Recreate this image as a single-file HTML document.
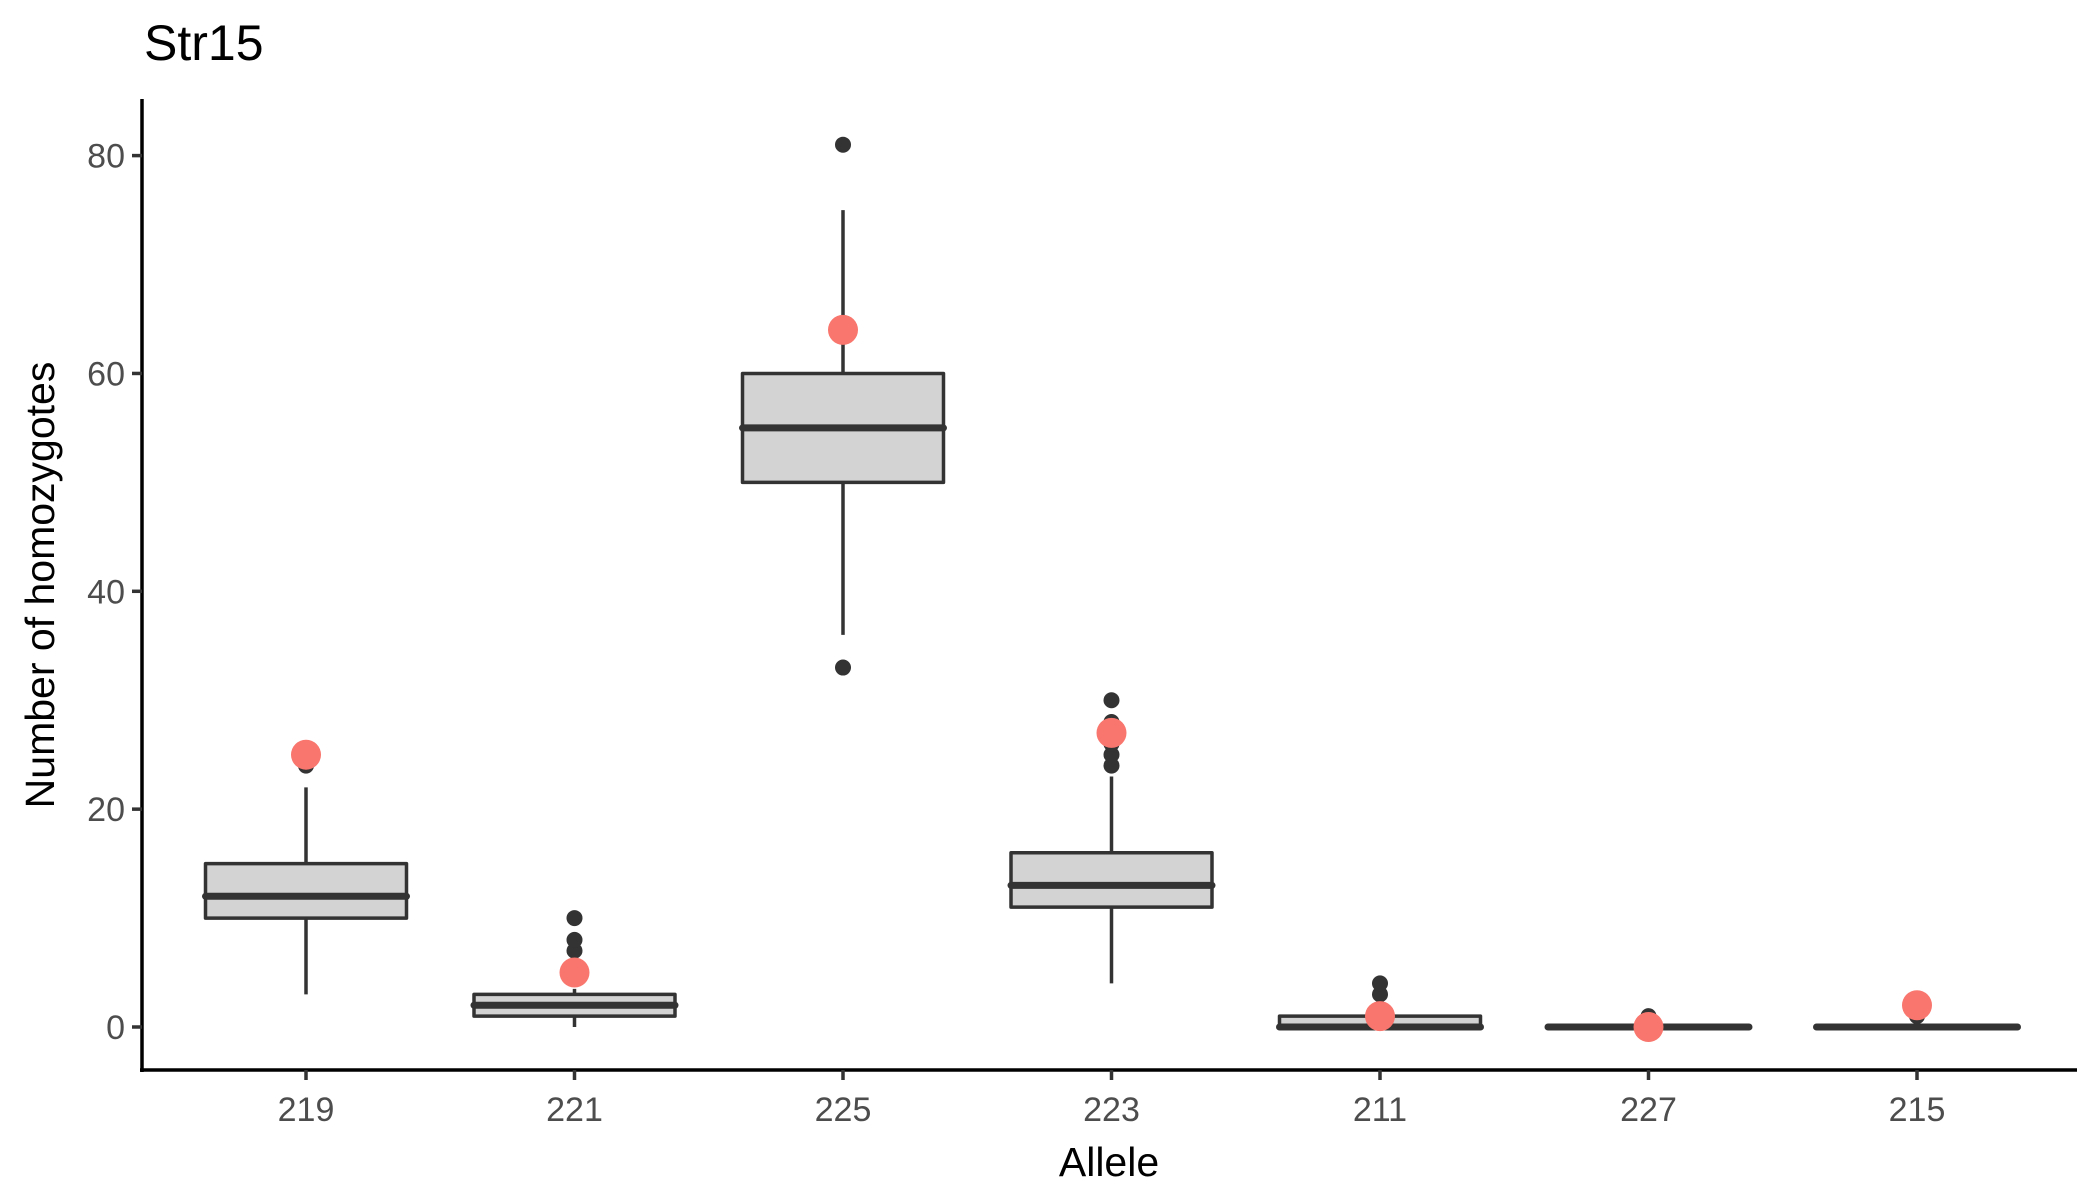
<!DOCTYPE html>
<html><head><meta charset="utf-8"><style>
html,body{margin:0;padding:0;background:#fff;}
svg{display:block;font-family:"Liberation Sans",Arial,sans-serif;}
</style></head><body>
<svg id="chart" width="2100" height="1200" viewBox="0 0 2100 1200">
<text x="144" y="60" font-size="50" fill="#000">Str15</text>
<g id="plot"></g>
<text transform="translate(54,585) rotate(-90)" text-anchor="middle" font-size="41" fill="#000">Number of homozygotes</text>
<text x="1109" y="1176" text-anchor="middle" font-size="41" fill="#000">Allele</text>
</svg>
<script>
const categories = ["219","221","225","223","211","227","215"];
const q1 = [10,1,50,11,0,0,0];
const median = [12,2,55,13,0,0,0];
const q3 = [15,3,60,16,1,0,0];
const whiskLow = [3,0,36,4,0,0,0];
const whiskHigh = [22,3.5,75,23,1,0,0];
const outliers = [[24],[7,8,10],[33,81],[24,25,26,27,28,30],[3,4],[1],[1]];
const observed = [25,5,64,27,1,0,2];
const yTicks = [0,20,40,60,80];

const NS="http://www.w3.org/2000/svg";
const g=document.getElementById('plot');
const x0=142, x1=2077, yTop=99, yAxis=1070;
function xs(i){return 306+i*268.5;}
function ys(v){return 1027-v*(1027-155.6)/80;}
const bw=201;
function mk(tag,attrs,parent){const e=document.createElementNS(NS,tag);for(const k in attrs)e.setAttribute(k,attrs[k]);(parent||g).appendChild(e);return e;}

let e;
e=mk('line',{x1:x0,y1:yTop,x2:x0,y2:yAxis+2,stroke:'#000','stroke-width':3.5});


e=mk('line',{x1:x0-2,y1:yAxis,x2:x1,y2:yAxis,stroke:'#000','stroke-width':3.5});



yTicks.forEach(t=>{
  e=mk('line',{x1:x0-10,y1:ys(t),x2:x0,y2:ys(t),stroke:'#333','stroke-width':3.5});
  
  
  e=mk('text',{x:x0-17,y:ys(t)+12,'text-anchor':'end','font-size':34,fill:'#4d4d4d'});
  e.textContent=t;
  
  
});

categories.forEach((c,i)=>{
  const cx=xs(i);
  e=mk('line',{x1:cx,y1:yAxis,x2:cx,y2:yAxis+10,stroke:'#333','stroke-width':3.5});
  
  
  e=mk('text',{x:cx,y:1121,'text-anchor':'middle','font-size':34,fill:'#4d4d4d'});
  e.textContent=c;
  
  
  const grp=mk('g',{});
  
  
  mk('line',{x1:cx,y1:ys(whiskHigh[i]),x2:cx,y2:ys(q3[i]),stroke:'#333','stroke-width':3.5},grp);
  mk('line',{x1:cx,y1:ys(whiskLow[i]),x2:cx,y2:ys(q1[i]),stroke:'#333','stroke-width':3.5},grp);
  mk('rect',{x:cx-bw/2,y:ys(q3[i]),width:bw,height:Math.max(ys(q1[i])-ys(q3[i]),0.01),fill:'#d3d3d3',stroke:'#333','stroke-width':3.5,'stroke-linejoin':'round'},grp);
  mk('line',{x1:cx-bw/2,y1:ys(median[i]),x2:cx+bw/2,y2:ys(median[i]),stroke:'#333','stroke-width':7,'stroke-linecap':'round'},grp);
  outliers[i].forEach(v=>{
    const o=mk('circle',{cx:cx,cy:ys(v),r:8,fill:'#333'});
    
    
  });
  e=mk('circle',{cx:cx,cy:ys(observed[i]),r:15,fill:'#f8766d'});
  
  
});
</script>
</body></html>
